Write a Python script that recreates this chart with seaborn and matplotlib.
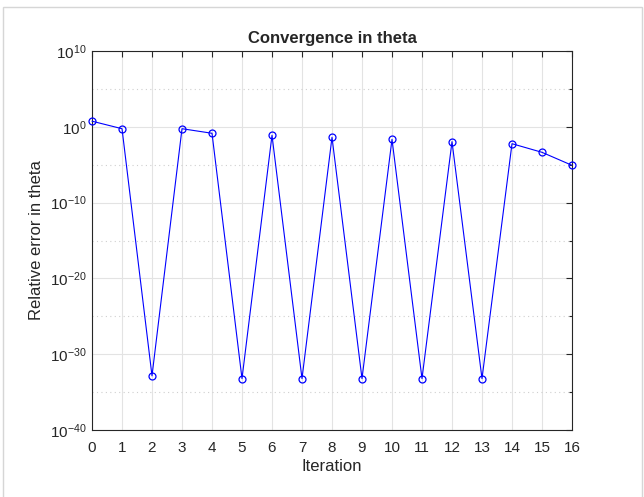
import numpy as np
import pandas as pd
import matplotlib
matplotlib.use('Agg')
import matplotlib.pyplot as plt
import matplotlib.ticker as mticker
import seaborn as sns

# values
iterations = list(range(17))
rel_error = [5.5, 0.56, 1.4e-33, 0.56, 0.14, 6e-34, 0.076, 6e-34, 0.041,
             6e-34, 0.022, 6e-34, 0.011, 6e-34, 0.0059, 4.3e-4, 8.3e-6]

df = pd.DataFrame({'Iteration': iterations, 'Error': rel_error})

sns.set_style('white')
plt.rcParams['font.family'] = ['Liberation Sans', 'DejaVu Sans']
plt.rcParams['mathtext.default'] = 'regular'

fig = plt.figure(figsize=(6.44, 4.97), dpi=100)
fig.patch.set_facecolor('white')
ax = fig.add_axes([92 / 644, 67 / 497, 480 / 644, 379 / 497])

# light frame around the figure
frame = plt.Rectangle((2.5 / 644, -0.05), 639.5 / 644, 1.05 - 6.5 / 497,
                      transform=fig.transFigure, fill=False,
                      edgecolor='#d6d6d6', linewidth=1.0, zorder=0)
fig.patches.append(frame)

sns.lineplot(data=df, x='Iteration', y='Error', ax=ax, color='#0000ff',
             linewidth=0.8, marker='o', markersize=5, markerfacecolor='none',
             markeredgecolor='#0000ff', markeredgewidth=0.9, zorder=3,
             clip_on=False)

ax.set_yscale('log')
ax.set_ylim(1e-40, 1e10)
ax.set_xlim(0, 16)
ax.set_xticks(range(0, 17))
ax.yaxis.set_major_locator(mticker.FixedLocator([10.0 ** k for k in range(-40, 11, 10)]))
ax.yaxis.set_minor_locator(mticker.FixedLocator([10.0 ** k for k in range(-35, 10, 10)]))
ax.yaxis.set_major_formatter(mticker.LogFormatterSciNotation())
ax.yaxis.set_minor_formatter(mticker.NullFormatter())

ax.grid(True, which='major', axis='both', color='#e3e3e3', linewidth=0.8, linestyle='-')
ax.grid(True, which='minor', axis='y', color='#cfcfcf', linewidth=0.8, linestyle=(0, (1, 3)))
ax.set_axisbelow(True)

ax.tick_params(axis='both', which='both', direction='in', top=True, right=True,
               colors='#262626', labelsize=11)
ax.tick_params(axis='both', which='major', length=4, width=0.8)
ax.tick_params(axis='y', which='minor', length=2.5, width=0.8)
ax.tick_params(axis='x', which='major', pad=8)
ax.tick_params(axis='y', which='major', pad=4)
for spine in ax.spines.values():
    spine.set_visible(True)
    spine.set_color('#262626')
    spine.set_linewidth(0.8)

ax.set_title('Convergence in theta', fontsize=12, fontweight='bold', pad=6)
ax.set_xlabel('Iteration', fontsize=12, color='#262626', labelpad=3)
ax.set_ylabel('Relative error in theta', fontsize=12, color='#262626', labelpad=4)

fig.savefig('out.png', dpi=100)
